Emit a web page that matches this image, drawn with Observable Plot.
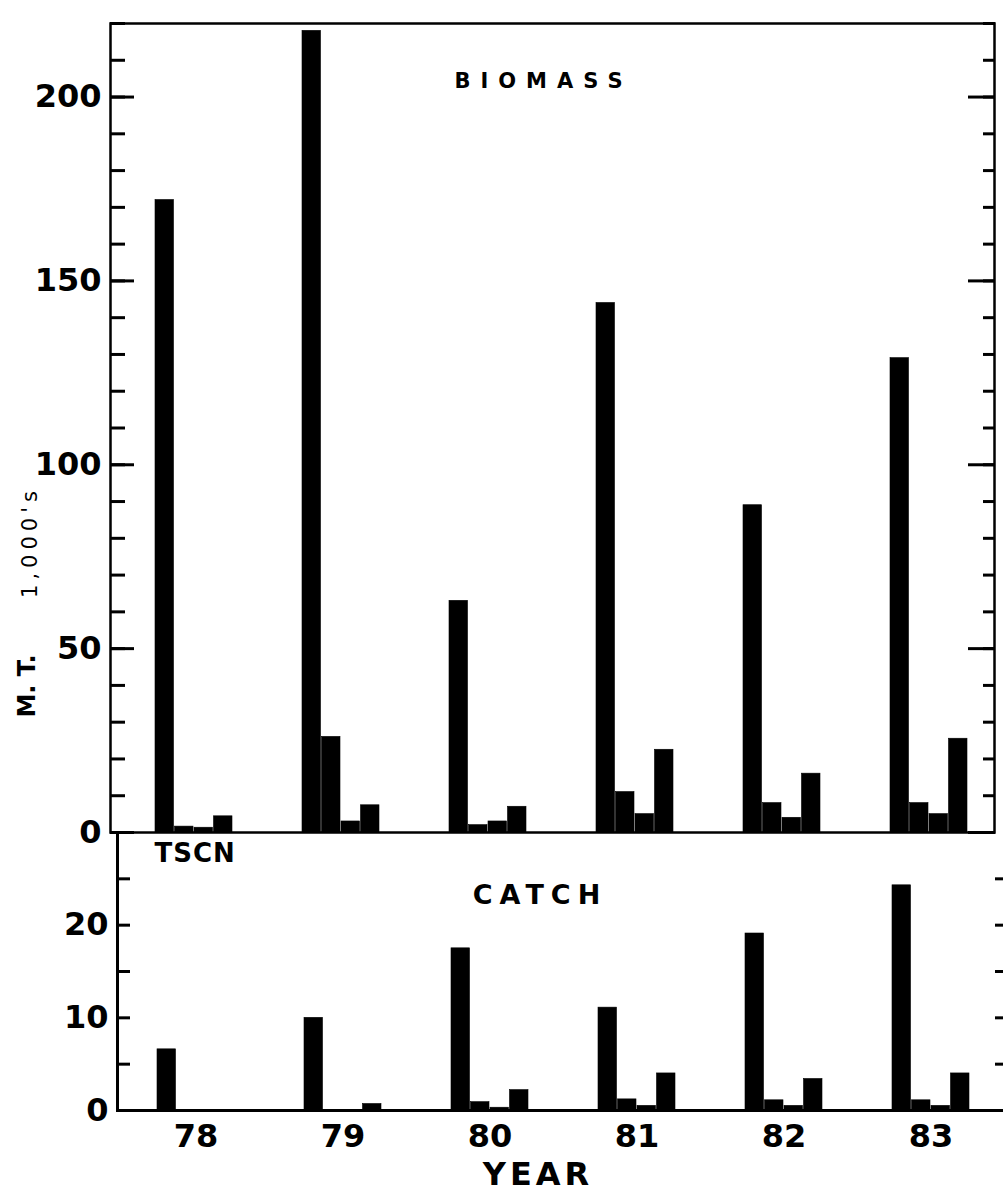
<!DOCTYPE html>
<html>
<head>
<meta charset="utf-8">
<script src="https://cdn.jsdelivr.net/npm/d3@7"></script>
<script src="https://cdn.jsdelivr.net/npm/@observablehq/plot@0.6"></script>
<style>
  body { margin: 0; background: #fff; }
  #chart { position: relative; width: 1003px; height: 1195px; overflow: hidden; background: #fff; }
  #chart svg { position: absolute; left: 0; }
</style>
</head>
<body>
<div id="chart"></div>
<script>
// ---- data (thousands of metric tons) ----
const years = ["78", "79", "80", "81", "82", "83"];
const biomassA = [172, 218, 63, 144, 89, 129];
const biomassB = [1.6, 26, 2, 11, 8, 8];
const biomassC = [1.3, 3, 3, 5, 4, 5];
const biomassD = [4.4, 7.4, 7, 22.5, 16, 25.5];
const catchA = [6.6, 10, 17.5, 11.1, 19.1, 24.3];
const catchB = [0, 0, 0.9, 1.2, 1.1, 1.1];
const catchC = [0, 0, 0.3, 0.5, 0.5, 0.5];
const catchD = [0, 0.7, 2.2, 4.0, 3.4, 4.0];
const biomassLabelTicks = [0, 50, 100, 150, 200];
const biomassMinorTicks = d3.range(0, 221, 10);
const catchLabelTicks = [0, 10, 20];
const catchMinorTicks = [5, 10, 15, 20, 25];

const FONT = "DejaVu Sans";
const BW = 19.5; // width of one bar within a year group (group = 4 bars)
const letterSpacing = {"BIOMASS": 10, "CATCH": 7, "YEAR": 4, "1,000's": 5, "TSCN": 1};

function rows(values) { return years.map((year, i) => ({year, value: values[i]})); }
function bars(values, k) {
  return Plot.barY(rows(values), {
    x: "year", y: "value", fill: "#000", stroke: "#000", strokeWidth: 0.6,
    insetLeft: k * BW, insetRight: (3 - k) * BW
  });
}
function spaceLetters(svg) {
  d3.select(svg).selectAll("text").each(function () {
    const ls = letterSpacing[this.textContent];
    if (ls) this.style.letterSpacing = ls + "px";
  });
}

const chartEl = document.getElementById("chart");

// ---------------- BIOMASS panel ----------------
const biomassPlot = Plot.plot({
  width: 1003, height: 860,
  marginTop: 23, marginBottom: 28, marginLeft: 110, marginRight: 9,
  style: {fontFamily: FONT, background: "transparent", color: "#000"},
  x: {type: "band", domain: years, paddingInner: 0.473, paddingOuter: 0.223, align: 0.636, axis: null},
  y: {domain: [0, 220], label: null},
  marks: [
    bars(biomassA, 0), bars(biomassB, 1), bars(biomassC, 2), bars(biomassD, 3),
    Plot.frame({stroke: "#000", strokeWidth: 2.5}),
    Plot.axisY({ticks: biomassMinorTicks, tickSize: -15, fill: "none", strokeWidth: 3, label: null}),
    Plot.axisY({ticks: biomassLabelTicks, tickSize: -24, fill: "none", strokeWidth: 3, label: null}),
    Plot.axisY({ticks: biomassLabelTicks, tickSize: 0, tickPadding: 9, fontSize: 32, fontWeight: "bold", label: null}),
    Plot.axisY({anchor: "right", ticks: biomassMinorTicks, tickSize: -12, fill: "none", strokeWidth: 3, label: null}),
    Plot.axisY({anchor: "right", ticks: biomassLabelTicks, tickSize: -27, fill: "none", strokeWidth: 3, label: null}),
    Plot.text(["BIOMASS"], {text: d => d, frameAnchor: "top", textAnchor: "middle", lineAnchor: "middle",
      dx: -9, dy: 58, fontSize: 21, fontWeight: "bold"}),
    Plot.text(["M. T."], {text: d => d, frameAnchor: "left", textAnchor: "middle", lineAnchor: "middle",
      rotate: -90, dx: -83, dy: 258, fontSize: 24, fontWeight: "bold"}),
    Plot.text(["1,000's"], {text: d => d, frameAnchor: "left", textAnchor: "middle", lineAnchor: "middle",
      rotate: -90, dx: -80, dy: 114, fontSize: 21})
  ]
});
biomassPlot.style.top = "0px";
spaceLetters(biomassPlot);
chartEl.appendChild(biomassPlot);

// ---------------- CATCH panel ----------------
const catchPlot = Plot.plot({
  width: 1003, height: 376,
  marginTop: 13, marginBottom: 85, marginLeft: 117, marginRight: 9,
  style: {fontFamily: FONT, background: "transparent", color: "#000"},
  x: {type: "band", domain: years, paddingInner: 0.473, paddingOuter: 0.1995, align: 0.627, label: null},
  y: {domain: [0, 30], label: null},
  marks: [
    bars(catchA, 0), bars(catchB, 1), bars(catchC, 2), bars(catchD, 3),
    Plot.ruleY([0], {stroke: "#000", strokeWidth: 3, insetRight: -9}),
    Plot.frame({anchor: "left", stroke: "#000", strokeWidth: 3}),
    Plot.axisY({ticks: catchMinorTicks, tickSize: -13, fill: "none", strokeWidth: 3, label: null}),
    Plot.axisY({ticks: catchLabelTicks, tickSize: 0, tickPadding: 9, fontSize: 32, fontWeight: "bold", label: null}),
    Plot.axisY({anchor: "right", ticks: catchMinorTicks, tickSize: 10, fill: "none", strokeWidth: 3, label: null}),
    Plot.axisX({tickSize: 0, tickPadding: 14, fontSize: 32, fontWeight: "bold", label: null}),
    Plot.text(["TSCN"], {text: d => d, frameAnchor: "top-left", textAnchor: "start", lineAnchor: "middle",
      dx: 37, dy: 21, fontSize: 26, fontWeight: "bold"}),
    Plot.text(["CATCH"], {text: d => d, frameAnchor: "top", textAnchor: "middle", lineAnchor: "middle",
      dx: -16, dy: 63, fontSize: 27, fontWeight: "bold"}),
    Plot.text(["YEAR"], {text: d => d, frameAnchor: "bottom", textAnchor: "middle", lineAnchor: "middle",
      dx: -18, dy: 64, fontSize: 32, fontWeight: "bold"})
  ]
});
catchPlot.style.top = "819px";
spaceLetters(catchPlot);
chartEl.appendChild(catchPlot);
</script>
</body>
</html>
